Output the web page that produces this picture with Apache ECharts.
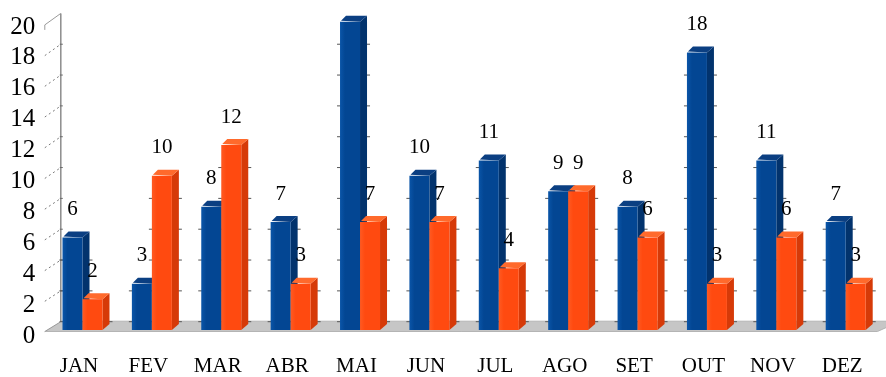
<!DOCTYPE html>
<html>
<head>
<meta charset="utf-8">
<script src="https://cdn.jsdelivr.net/npm/echarts@6/dist/echarts.min.js"></script>
<style>
  html, body { margin: 0; padding: 0; background: #ffffff; }
  #chart { width: 886px; height: 377px; }
</style>
</head>
<body>
<div id="chart"></div>
<script>
// Monthly values for the two series
const meses = ['JAN', 'FEV', 'MAR', 'ABR', 'MAI', 'JUN', 'JUL', 'AGO', 'SET', 'OUT', 'NOV', 'DEZ'];
const serieAzul = [6, 3, 8, 7, 20, 10, 11, 9, 8, 18, 11, 7];
const serieLaranja = [2, 10, 12, 3, 7, 7, 4, 9, 6, 3, 6, 3];
const eixoMin = 0, eixoMax = 20, eixoPasso = 2;

// Pseudo-3D geometry (pixels)
const BAR_W = 20;          // front face width of one column
const DX = 7, DY = -6;     // column depth vector
const WALL_DX = 13, WALL_DY = -8.3; // back wall offset from the column plane
const FONT = "'Liberation Serif', 'Times New Roman', serif";

const niveis = [];
for (let v = eixoMin; v <= eixoMax; v += eixoPasso) niveis.push(v);

const cores = {
  azul:    { front: '#034693', frontL: '#0a55a8', side: '#02336d', top: '#0b3f82' },
  laranja: { front: '#ff4a10', frontL: '#ff5a22', side: '#d63a08', top: '#ff6a2c' }
};

// Floor, left wall and back-wall grid stubs
function renderWalls(params, api) {
  const cs = params.coordSys;
  const gx = cs.x, gw = cs.width;
  const base = api.coord([0, 0])[1];
  const children = [];
  const fy = (v) => api.coord([0, v])[1] + 2 + 0.06 * v;   // front edge
  const by = (v) => api.coord([0, v])[1] + WALL_DY;        // back edge
  const fx = gx - 3, bx = gx + WALL_DX;

  // floor
  children.push({
    type: 'polygon',
    shape: { points: [[fx, base + 1.5], [bx, base + WALL_DY - 0.5], [gx + gw + 20, base + WALL_DY - 0.5], [gx + gw - 3, base + 1.5]] },
    style: { fill: '#c6c6c6', stroke: '#b4b4b4', lineWidth: 1 }
  });
  // left wall
  children.push({
    type: 'polygon',
    shape: { points: [[fx, fy(eixoMax)], [bx, by(eixoMax)], [bx, by(0)], [fx, base + 1.5]] },
    style: { fill: '#ffffff' }
  });
  children.push({
    type: 'line', shape: { x1: bx, y1: by(eixoMax), x2: bx, y2: by(0) },
    style: { stroke: '#8c8c8c', lineWidth: 1.5 }
  });
  children.push({
    type: 'line', shape: { x1: fx, y1: fy(eixoMax), x2: bx, y2: by(eixoMax) },
    style: { stroke: '#9a9a9a', lineWidth: 1 }
  });
  children.push({
    type: 'line', shape: { x1: fx, y1: fy(eixoMax), x2: fx, y2: fy(eixoMax) + 5 },
    style: { stroke: '#9a9a9a', lineWidth: 1 }
  });
  children.push({
    type: 'line', shape: { x1: fx, y1: base + 1.5, x2: bx, y2: by(0) },
    style: { stroke: '#9a9a9a', lineWidth: 1 }
  });
  niveis.forEach((v) => {
    if (v === eixoMin || v === eixoMax) return;
    children.push({
      type: 'line', shape: { x1: fx, y1: fy(v), x2: bx, y2: by(v) },
      style: { stroke: '#7a7a7a', lineWidth: 1, lineDash: [2, 3] }
    });
    children.push({
      type: 'line', shape: { x1: bx - 1, y1: by(v), x2: bx + 2, y2: by(v) },
      style: { stroke: '#6a6a6a', lineWidth: 1 }
    });
  });

  // grid-line stubs peeking out beside each column
  meses.forEach((m, i) => {
    const c = api.coord([i, 0])[0];
    [[serieAzul[i], c - BAR_W], [serieLaranja[i], c]].forEach(([val, x0]) => {
      const x1 = x0 + BAR_W;
      niveis.forEach((v) => {
        if (v >= val) return;
        const y = by(v);
        children.push({ type: 'line', shape: { x1: x0 - 3, y1: y, x2: x0 + 1, y2: y }, style: { stroke: '#555', lineWidth: 1 } });
        children.push({ type: 'line', shape: { x1: x1 + DX - 1, y1: y, x2: x1 + DX + 3, y2: y }, style: { stroke: '#555', lineWidth: 1 } });
      });
    });
  });
  return { type: 'group', children: children };
}

// One pseudo-3D column: front face, side face, top face and value label
function makeColumn(lado, cor) {
  return function (params, api) {
    const i = api.value(0), v = api.value(1);
    const p = api.coord([i, v]);
    const b = api.coord([i, 0]);
    const x0 = lado < 0 ? p[0] - BAR_W : p[0];
    const x1 = x0 + BAR_W;
    const top = p[1], base = b[1];
    const children = [
      {
        type: 'polygon',
        shape: { points: [[x1, top], [x1 + DX, top + DY], [x1 + DX, base + DY], [x1, base]] },
        style: { fill: cor.side }
      },
      {
        type: 'polygon',
        shape: { points: [[x0 + 1, top - 1], [x0 + DX - 1, top + DY], [x1 + DX, top + DY], [x1, top]] },
        style: { fill: cor.top }
      },
      {
        type: 'rect',
        shape: { x: x0, y: top, width: BAR_W, height: base - top },
        style: {
          fill: new echarts.graphic.LinearGradient(0, 0, 1, 0, [
            { offset: 0, color: cor.frontL }, { offset: 0.25, color: cor.front }, { offset: 1, color: cor.front }
          ])
        }
      }
    ];
    const ly = top - 28;
    if (ly > 12) {
      children.push({
        type: 'text',
        style: {
          text: String(v), x: (x0 + x1) / 2, y: ly,
          align: 'center', verticalAlign: 'middle',
          fontFamily: FONT, fontSize: 21, fill: '#000000'
        }
      });
    }
    return { type: 'group', children: children };
  };
}

const chart = echarts.init(document.getElementById('chart'), null, { renderer: 'canvas' });
chart.setOption({
  animation: false,
  backgroundColor: '#ffffff',
  grid: [
    { left: 47.8, right: 5.6, top: 21.7, bottom: 47 },   // column plane
    { left: 44.3, right: 9.1, top: 27, bottom: 40 }      // front plane (axis labels)
  ],
  xAxis: [
    { type: 'category', gridIndex: 0, data: meses, axisLine: { show: false }, axisTick: { show: false }, axisLabel: { show: false } },
    {
      type: 'category', gridIndex: 1, data: meses,
      axisLine: { show: false }, axisTick: { show: false },
      axisLabel: { margin: 20, fontFamily: FONT, fontSize: 21, color: '#000000' }
    }
  ],
  yAxis: [
    { type: 'value', gridIndex: 0, min: eixoMin, max: eixoMax, interval: eixoPasso, axisLine: { show: false }, axisTick: { show: false }, axisLabel: { show: false }, splitLine: { show: false } },
    {
      type: 'value', gridIndex: 1, min: eixoMin, max: eixoMax, interval: eixoPasso,
      axisLine: { show: false }, axisTick: { show: false }, splitLine: { show: false },
      axisLabel: { margin: 9, fontFamily: FONT, fontSize: 25, color: '#000000' }
    }
  ],
  series: [
    { type: 'custom', xAxisIndex: 0, yAxisIndex: 0, data: [[0, 0]], renderItem: renderWalls, silent: true },
    { type: 'custom', name: 'Azul', xAxisIndex: 0, yAxisIndex: 0, data: serieAzul.map((v, i) => [i, v]), renderItem: makeColumn(-1, cores.azul) },
    { type: 'custom', name: 'Laranja', xAxisIndex: 0, yAxisIndex: 0, data: serieLaranja.map((v, i) => [i, v]), renderItem: makeColumn(1, cores.laranja) }
  ]
});
</script>
</body>
</html>
